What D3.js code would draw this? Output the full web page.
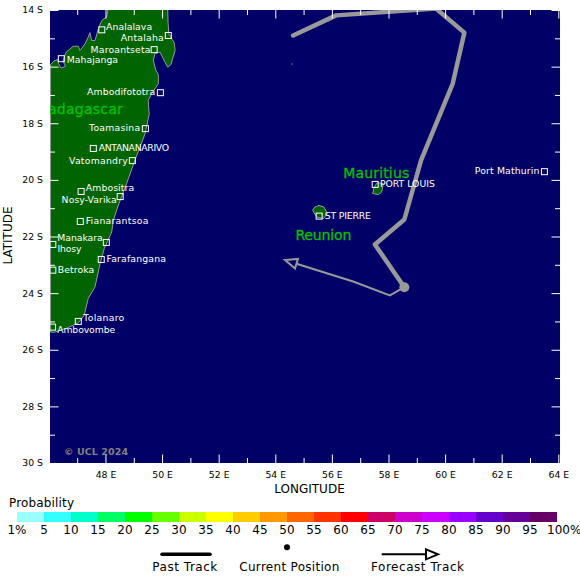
<!DOCTYPE html>
<meta charset="utf-8">
<style>
    html, body {
        margin: 0;
        background: #fff;
    }

    text {
        font-family: "DejaVu Sans", sans-serif;
    }

    .axis path {
        display: none;
    }

    .axis line {
        stroke: #fff;
    }

    .axis text {
        fill: #000;
        font-size: 9.3px;
    }

    .coast {
        fill: #006400;
        stroke: #999;
        stroke-width: 1;
    }

    .city {
        fill: none;
        stroke: #fff;
    }

    .cityLabel {
        fill: #fff;
        font-size: 9.3px;
    }

    .country {
        fill: #00c000;
        stroke: #00c000;
        stroke-width: 0.3px;
        font-size: 14px;
    }

    .legendText {
        font-size: 12px;
    }
</style>

<svg width="580" height="582"></svg>

<script src="https://d3js.org/d3.v7.min.js"></script>
<script>

    // DATA

    var lonTicks = [47, 48, 49, 50, 51, 52, 53, 54, 55, 56, 57, 58, 59, 60, 61, 62, 63, 64],
        latTicks = [14, 15, 16, 17, 18, 19, 20, 21, 22, 23, 24, 25, 26, 27, 28, 29, 30];

    var madagascar = [[50.20,13.91],[50.21,14.43],[50.24,14.84],[50.43,15.16],[50.46,15.43],[50.31,15.93],
        [50.20,16.02],[50.10,15.84],[49.93,15.49],[49.75,15.54],[49.69,15.78],[49.78,16.13],[49.87,16.29],
        [49.87,16.60],[49.63,16.96],[49.51,17.19],[49.54,17.60],[49.55,17.66],[49.40,18.37],[49.04,19.31],
        [48.75,20.12],[48.43,20.96],[48.28,21.43],[48.22,21.84],[47.96,22.42],[47.81,22.95],[47.63,23.78],
        [47.39,24.19],[47.25,24.78],[47.04,25.05],[46.63,25.24],[46.16,25.39],[46.06,25.37],[46.06,15.93],
        [46.18,15.80],[46.32,15.75],[46.34,15.89],[46.43,16.05],[46.59,15.99],[46.50,15.80],[46.60,15.50],
        [46.86,15.28],[47.04,15.28],[47.10,15.43],[47.28,15.19],[47.39,14.96],[47.45,14.80],[47.51,15.08],
        [47.63,15.08],[47.75,14.66],[47.87,14.37],[48.04,14.25],[48.10,13.91]];

    var mauritius = [[57.82,20.13],[57.76,20.43],[57.64,20.52],[57.44,20.48],[57.49,20.27],[57.60,20.10]];

    var reunion = [[55.55,20.90],[55.72,20.96],[55.84,21.19],[55.70,21.37],[55.46,21.31],[55.32,21.07],[55.40,20.96]];

    var tromelin = [54.57, 15.89];

    var cityNames = ["Analalava", "Antalaha", "Maroantseta", "Mahajanga", "Ambodifototra", "Toamasina",
        "ANTANANARIVO", "Vatomandry", "Ambositra", "Nosy-Varika", "Fianarantsoa", "Manakara", "Ihosy",
        "Farafangana", "Betroka", "Tolanaro", "Ambovombe", "PORT LOUIS", "ST PIERRE", "Port Mathurin"];

    var cityLons = [47.87, 50.22, 49.72, 46.44, 49.94, 49.41, 47.57, 48.95, 47.14, 48.52,
        47.11, 48.03, 46.14, 47.85, 46.14, 47.04, 46.13, 57.53, 55.55, 63.51];

    var cityLats = [14.70, 14.90, 15.40, 15.72, 16.92, 18.19, 18.89, 19.32, 20.41, 20.59,
        21.47, 22.21, 22.28, 22.81, 23.19, 25.00, 25.20, 20.16, 21.28, 19.71];

    var countryNames = ["Madagascar", "Mauritius", "Reunion"],
        countryLons = [48.61, 56.40, 54.71],
        countryLats = [17.67, 19.93, 22.13];

    var pastTrack = [[54.63,14.90],[56.15,14.19],[59.68,13.95],[60.68,14.80],[60.27,16.60],[59.15,19.31],
        [58.56,21.40],[57.52,22.28],[58.56,23.79]];

    var currentPosition = [58.56, 23.79];

    var forecastTrack = [[58.56,23.79],[58.05,24.08],[56.75,23.59],[54.75,22.96]];

    var probLabels = ["1%", "5", "10", "15", "20", "25", "30", "35", "40", "45", "50",
        "55", "60", "65", "70", "75", "80", "85", "90", "95", "100%"];

    var probColors = ["#99ffff", "#33ffff", "#00ffcc", "#00ff66", "#00ff00", "#66ff00", "#ccff00", "#ffff00",
        "#ffcc00", "#ff9900", "#ff6600", "#ff3300", "#ff0000", "#cc0066", "#cc00cc", "#cc00ff",
        "#9900ff", "#6600cc", "#660099", "#660066"];

    // SETUP

    var svg = d3.select("svg"),
        margin = { top: 10, left: 50 },
        width = 510,
        height = 453,
        x = d3.scaleLinear().domain([46.04, 64.06]).range([0, width]),
        y = d3.scaleLinear().domain([14, 30]).range([0, height]),
        line = d3.line().x(function (d) { return x(d[0]); }).y(function (d) { return y(d[1]); });

    var defs = svg.append("defs");

    defs.append("clipPath").attr("id", "plot")
        .append("rect").attr("width", width).attr("height", height);

    function arrowMarker(id, color) {
        defs.append("marker")
            .attr("id", id)
            .attr("markerUnits", "userSpaceOnUse")
            .attr("orient", "auto")
            .attr("markerWidth", 20).attr("markerHeight", 20)
            .attr("viewBox", "-3 -8 20 16")
            .attr("refX", 0).attr("refY", 0)
            .append("path")
            .attr("d", "M0,-5L12,0L0,5Z")
            .attr("fill", "none")
            .attr("stroke", color)
            .attr("stroke-width", 2);
    }
    arrowMarker("headGrey", "#999");
    arrowMarker("headBlack", "#000");

    var g = svg.append("g")
        .attr("transform", "translate(" + margin.left + "," + margin.top + ")");

    g.append("rect")
        .attr("width", width).attr("height", height)
        .attr("fill", "#000066");

    // MAP

    var map = g.append("g").attr("clip-path", "url(#plot)");

    map.selectAll(".coast")
        .data([madagascar, mauritius, reunion])
        .enter().append("path")
        .attr("class", "coast")
        .attr("d", function (d) { return line(d) + "Z"; });

    map.append("rect")
        .attr("x", x(tromelin[0])).attr("y", y(tromelin[1]))
        .attr("width", 1).attr("height", 1)
        .attr("fill", "#ccc");

    // widths fitted to the reference lettering
    var countryWidths = [87, 66, 56];

    map.selectAll(".country")
        .data(countryNames)
        .enter().append("text")
        .attr("class", "country")
        .attr("x", function (d, i) { return x(countryLons[i]); })
        .attr("y", function (d, i) { return y(countryLats[i]); })
        .attr("text-anchor", function (d, i) { return i == 0 ? "end" : "start"; })
        .attr("textLength", function (d, i) { return countryWidths[i]; })
        .text(function (d) { return d; });

    // label placement next to each city square: [dx, dy, anchor, width]
    var labelPlace = [[4.3,0.2,"start",46],[-4.6,5.7,"end",43],[-3.6,3,"end",60],[5.4,4,"start",51.3],
        [-5.3,2.7,"end",68],[-5.3,2.7,"end",51],[5.4,2.7,"start",70.3],[-4.6,3.7,"end",58.7],
        [4.7,-0.6,"start",48.3],[-3.6,6.4,"end",55],[5.4,2.7,"start",62.7],[-3.6,-1.6,"end",45.4],
        [4.7,7.4,"start",24],[5.4,3,"start",59.3],[5,2.7,"start",36.3],[5,-0.6,"start",41],
        [4.6,5.7,"start",58],[4.7,2.7,"start",55],[5.7,2.7,"start",46],[-5,2,"end",64.6]];

    var cities = g.selectAll(".cityGroup")
        .data(cityNames)
        .enter().append("g")
        .attr("class", "cityGroup")
        .attr("transform", function (d, i) {
            return "translate(" + x(cityLons[i]) + "," + y(cityLats[i]) + ")";
        });

    cities.append("rect")
        .attr("class", "city")
        .attr("x", -3).attr("y", -3)
        .attr("width", 6).attr("height", 6);

    cities.append("text")
        .attr("class", "cityLabel")
        .attr("x", function (d, i) { return labelPlace[i][0]; })
        .attr("y", function (d, i) { return labelPlace[i][1]; })
        .attr("text-anchor", function (d, i) { return labelPlace[i][2]; })
        .attr("textLength", function (d, i) { return labelPlace[i][3]; })
        .text(function (d) { return d; });

    // TRACKS

    map.append("path")
        .attr("d", line(forecastTrack))
        .attr("fill", "none")
        .attr("stroke", "#999")
        .attr("stroke-width", 2)
        .attr("marker-end", "url(#headGrey)");

    map.append("path")
        .attr("d", line(pastTrack))
        .attr("fill", "none")
        .attr("stroke", "#999")
        .attr("stroke-width", 4.5)
        .attr("stroke-linejoin", "round")
        .attr("stroke-linecap", "round");

    map.append("circle")
        .attr("cx", x(currentPosition[0])).attr("cy", y(currentPosition[1]))
        .attr("r", 5)
        .attr("fill", "#999");

    g.append("text")
        .attr("x", 14).attr("y", 444.7)
        .attr("fill", "#808080")
        .attr("font-size", "9.5px")
        .attr("font-weight", "bold")
        .attr("textLength", 64)
        .text("\u00a9 UCL 2024");

    // AXES

    function lonLabel(d) { return d % 2 == 0 ? d + " E" : ""; }
    function latLabel(d) { return d % 2 == 0 ? d + " S" : ""; }
    function even(d) { return d % 2 == 0; }

    function drawAxis(axis, ticks, translate) {
        var a = g.append("g")
            .attr("class", "axis")
            .attr("transform", translate)
            .call(axis.tickValues(ticks).tickSize(-5));
        a.selectAll(".tick line").filter(even).each(function () {
            var l = d3.select(this);
            if (l.attr("x2")) l.attr("x2", +l.attr("x2") * 8.5 / 5);
            if (l.attr("y2")) l.attr("y2", +l.attr("y2") * 8.5 / 5);
        });
        return a;
    }

    var bottom = drawAxis(d3.axisBottom(x).tickFormat(lonLabel), lonTicks, "translate(0," + height + ")");
    bottom.selectAll("text").attr("y", 8).attr("dy", "0.71em");

    drawAxis(d3.axisTop(x).tickFormat(""), lonTicks, "translate(0,0)");

    var left = drawAxis(d3.axisLeft(y).tickFormat(latLabel), latTicks, "translate(0,0)");
    left.selectAll("text").attr("x", -7);

    drawAxis(d3.axisRight(y).tickFormat(""), latTicks, "translate(" + width + ",0)");

    svg.append("text")
        .attr("class", "legendText")
        .attr("x", 309.5).attr("y", 493)
        .attr("text-anchor", "middle")
        .text("LONGITUDE");

    svg.append("text")
        .attr("class", "legendText")
        .attr("transform", "translate(12,235.5) rotate(-90)")
        .attr("text-anchor", "middle")
        .text("LATITUDE");

    // LEGEND

    var legendX = d3.scaleLinear().domain([0, probColors.length]).range([17, 557]);

    svg.append("text")
        .attr("class", "legendText")
        .attr("x", 9).attr("y", 506.7)
        .attr("textLength", 65)
        .text("Probability");

    svg.selectAll(".probCell")
        .data(probColors)
        .enter().append("rect")
        .attr("class", "probCell")
        .attr("x", function (d, i) { return legendX(i); })
        .attr("y", 512)
        .attr("width", function (d, i) { return legendX(i + 1) - legendX(i); })
        .attr("height", 10)
        .attr("fill", function (d) { return d; });

    svg.selectAll(".probLabel")
        .data(probLabels)
        .enter().append("text")
        .attr("class", "probLabel legendText")
        .attr("x", function (d, i) { return i == 20 ? 547 : legendX(i); })
        .attr("y", 534)
        .attr("text-anchor", function (d, i) { return i == 20 ? "start" : "middle"; })
        .text(function (d) { return d; });

    svg.append("line")
        .attr("x1", 162).attr("x2", 210)
        .attr("y1", 554.3).attr("y2", 554.3)
        .attr("stroke", "#000")
        .attr("stroke-width", 3.5)
        .attr("stroke-linecap", "round");

    svg.append("circle")
        .attr("cx", 287).attr("cy", 547.3)
        .attr("r", 3)
        .attr("fill", "#000");

    svg.append("line")
        .attr("x1", 381.7).attr("x2", 426)
        .attr("y1", 554.3).attr("y2", 554.3)
        .attr("stroke", "#000")
        .attr("stroke-width", 2)
        .attr("marker-end", "url(#headBlack)");

    svg.selectAll(".keyLabel")
        .data([["Past Track", 152.3, 65], ["Current Position", 239.3, 100], ["Forecast Track", 371, 93]])
        .enter().append("text")
        .attr("class", "keyLabel legendText")
        .attr("x", function (d) { return d[1]; })
        .attr("y", 571)
        .attr("textLength", function (d) { return d[2]; })
        .text(function (d) { return d[0]; });

</script>
